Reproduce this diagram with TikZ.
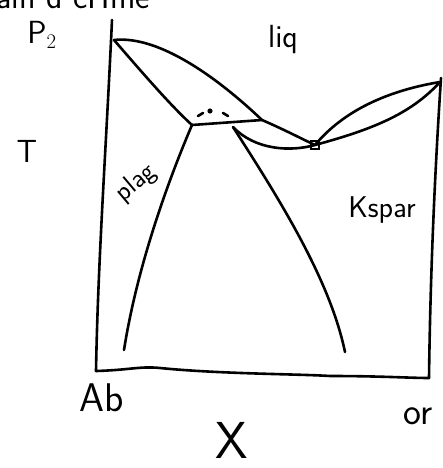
\documentclass[tikz,border=0pt]{standalone}
\begin{document}
\begin{tikzpicture}[x=1pt,y=-1pt,
  ink/.style={line width=2.6pt,line cap=round,line join=round},
  lab/.style={inner sep=0pt,font=\sffamily}]
\useasboundingbox (0,0) rectangle (443,468);
\clip (0,0) rectangle (443,468);
% cut off heading
\node[lab,font=\sffamily\fontsize{34}{34}\selectfont,anchor=base west] (head) at (-4,9) {ain d cHme};
% frame
\coordinate (tl) at (112,20);
\coordinate (bl) at (96,371);
\coordinate (br) at (429,378);
\coordinate (tr) at (441,78);
\draw[ink] (tl) .. controls (106,150) and (98,260) .. (bl);
\draw[ink] (bl) .. controls (130,370) and (140,366) .. (160,368) .. controls (220,374) and (300,374) .. (330,376) .. controls (380,376) and (410,378) .. (br);
\draw[ink] (br) .. controls (430,300) and (433,200) .. (tr);
% key points
\coordinate (A) at (114,40);
\coordinate (P) at (192,125);
\coordinate (Q) at (262,120);
\coordinate (R) at (233,127);
\coordinate (E) at (315,145);
\coordinate (O) at (440,82);
% liquidus left
\draw[ink] (A) .. controls (160,35) and (220,80) .. (Q) .. controls (285,130) and (300,138) .. (E);
% plag solidus
\draw[ink] (A) .. controls (140,70) and (170,105) .. (P);
% peritectic horizontal
\draw[ink] (P) -- (Q);
% kspar solidus left
\draw[ink] (R) .. controls (255,150) and (290,152) .. (E);
% right loop
\draw[ink] (E) .. controls (340,115) and (380,92) .. (O);
\draw[ink] (E) .. controls (370,130) and (410,115) .. (O);
\draw[line width=2pt] (311,141) rectangle (319,149);
% dashed cap
\draw[ink] (198,116) -- (203,113);
\fill (210,111) circle (2.6pt);
\draw[ink] (223,113) -- (228,116);
% solvi
\draw[ink] (P) .. controls (160,200) and (135,280) .. (124,350);
\draw[ink] (R) .. controls (280,200) and (330,280) .. (345,352);
% labels
\node[lab,font=\sffamily\fontsize{32}{32}\selectfont] (p2) at (42,35) {P$_2$};
\node[lab,font=\sffamily\fontsize{32}{32}\selectfont] (liq) at (283,40) {liq};
\node[lab,font=\sffamily\fontsize{32}{32}\selectfont] (T) at (27,151) {T};
\node[lab,font=\sffamily\fontsize{27}{27}\selectfont,rotate=40] (plag) at (136,183) {plag};
\node[lab,font=\sffamily\fontsize{30}{30}\selectfont] (ks) at (382,210) {Kspar};
\node[lab,font=\sffamily\fontsize{40}{40}\selectfont] (ab) at (102,398) {Ab};
\node[lab,font=\sffamily\fontsize{38}{38}\selectfont] (or) at (418,416) {or};
\node[lab,font=\sffamily\fontsize{52}{52}\selectfont] (X) at (232,440) {X};
\end{tikzpicture}
\end{document}
